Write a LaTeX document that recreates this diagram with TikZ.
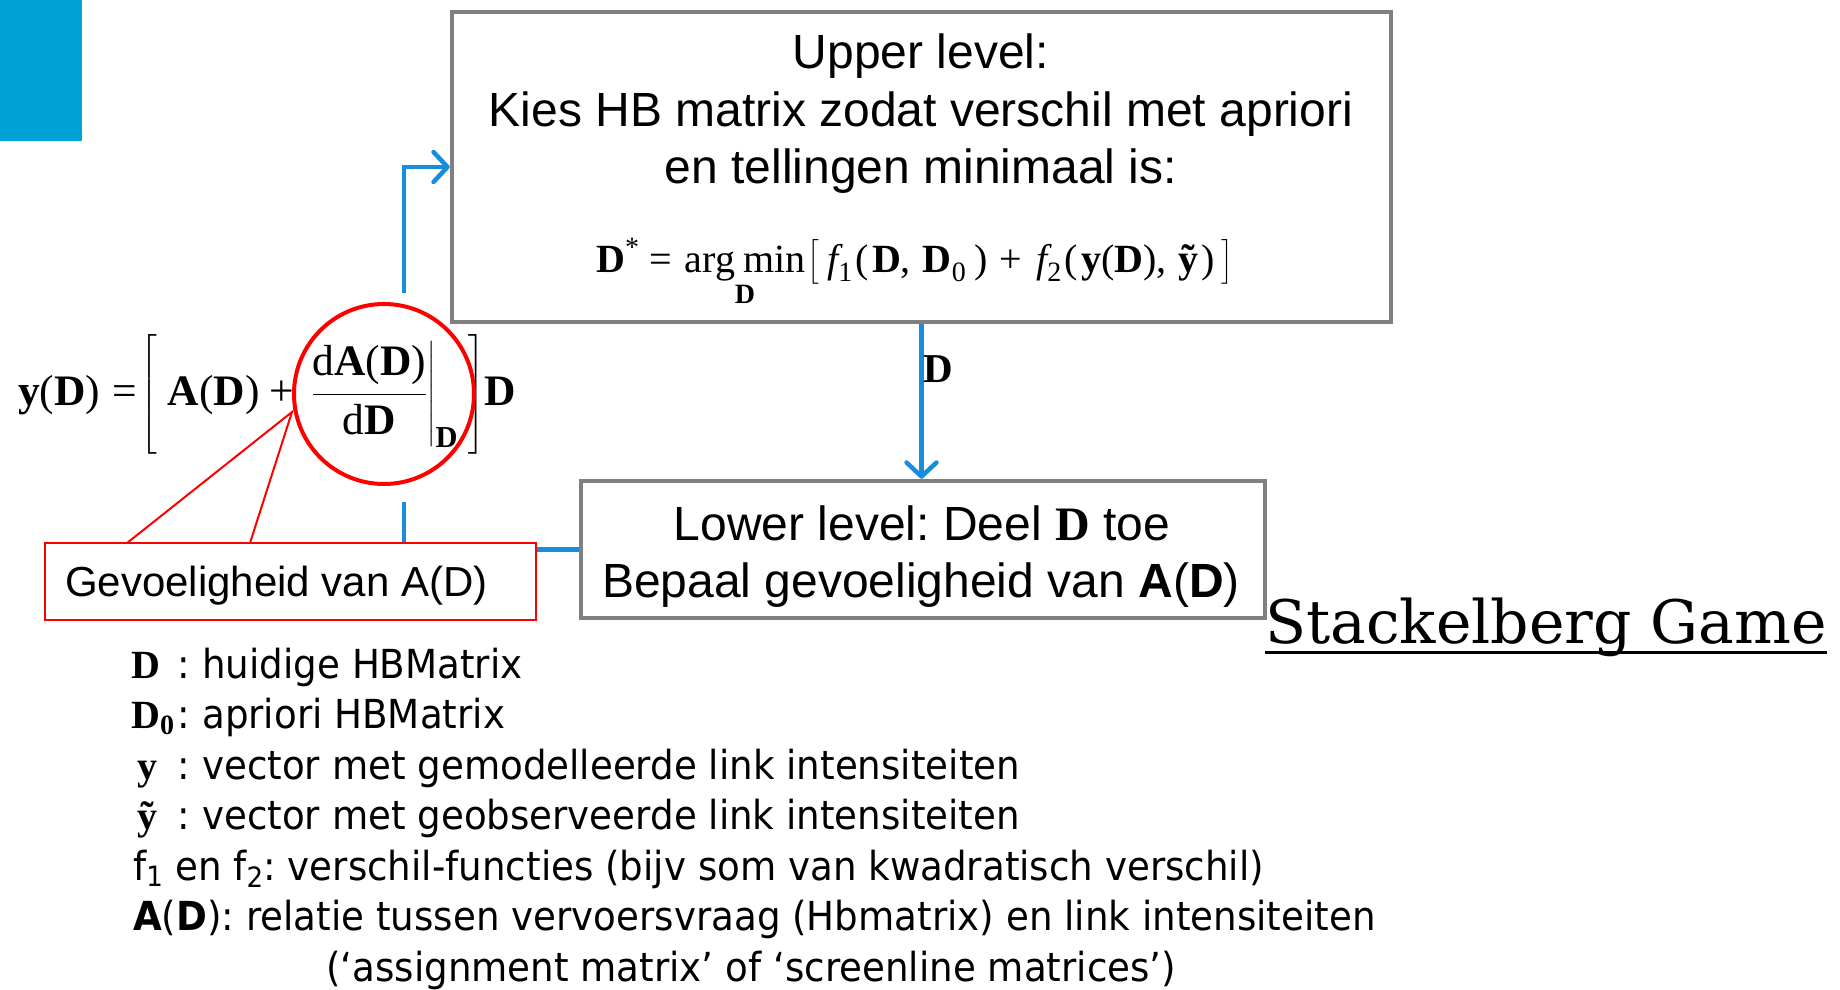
\RequirePackage{fix-cm}
\documentclass[tikz,border=0pt]{standalone}
\usepackage[no-math]{fontspec}
\usepackage{amsmath}
\setmainfont{Liberation Sans}
\newfontfamily\tnr{Liberation Serif}
\newfontfamily\tah[FakeStretch=0.93]{DejaVu Sans}
\newfontfamily\djs{DejaVu Serif}
\usetikzlibrary{arrows.meta}
\frenchspacing

\definecolor{hdrblue}{RGB}{0,163,214}
\definecolor{arrblue}{RGB}{26,140,220}
\definecolor{boxgray}{RGB}{128,128,128}

\newcommand{\legsym}[1]{\makebox[46pt][l]{#1}\makebox[25pt][l]{:}}

\tikzset{
  levelbox/.style={draw=boxgray, line width=4.5pt, fill=white, inner sep=0pt},
  flow/.style={draw=arrblue, line width=4.5pt},
  flowarrow/.style={flow, -{Straight Barb[length=14pt,width=30pt,round]}},
  boxtext/.style={font=\frenchspacing\fontsize{48}{57}\selectfont, inner sep=0pt, anchor=base},
  legend/.style={font=\frenchspacing\tah\fontsize{40}{50}\selectfont, anchor=base west, inner sep=0pt},
  calloutline/.style={draw=red, line width=2pt},
}

\begin{document}
\begin{tikzpicture}[x=1pt, y=-1pt]
\useasboundingbox (0,0) rectangle (1840,990);

% corner tab
\node[fill=hdrblue, minimum width=82pt, minimum height=141pt, inner sep=0pt, anchor=north west] (tab) at (0,0) {};

% boxes
\node[levelbox, minimum width=939pt, minimum height=310pt] (upper) at (921.5,167) {};
\node[levelbox, minimum width=684pt, minimum height=137pt] (lower) at (923,549.5) {};

\node[boxtext] (u1) at (921,69) {Upper level:};
\node[boxtext] (u2) at (921,126) {Kies HB matrix zodat verschil met apriori};
\node[boxtext] (u3) at (921,183) {en tellingen minimaal is:};
\node[anchor=base west, inner sep=0pt, font=\tnr\fontsize{40}{44}\selectfont] (uf) at (596,272)
  {$\text{\bfseries D}^{\text{*}}\hspace{10pt}\text{=}\hspace{6pt}\mathop{\text{arg\hspace{8pt}min}}\limits_{\text{\bfseries D}}\hspace{2pt}\bigl[\hspace{8pt}\text{\itshape f}_{\text{1}}\hspace{3pt}\text{(\hspace{3pt}\textbf{D},\hspace{12pt}\textbf{D}}_{\text{0}}\hspace{8pt}\text{)}\hspace{12pt}\text{+}\hspace{14pt}\text{\itshape f}_{\text{2}}\hspace{3pt}\text{(\hspace{3pt}\textbf{y}(\textbf{D}),\hspace{12pt}\textbf{ỹ}\hspace{3pt})}\hspace{6pt}\bigr]$};

\node[boxtext] (lw1) at (922,540) {Lower level: Deel {\tnr\bfseries D} toe};
\node[boxtext] (lw2) at (921,597) {Bepaal gevoeligheid van \textbf{A}(\textbf{D})};

% down arrow D
\draw[flowarrow] (upper.south) -- (upper.south |- lower.north)
  node[pos=0.29, anchor=west, inner sep=0pt, font=\tnr\bfseries\fontsize{41}{41}\selectfont] (dlab) {D};

% feedback connector
\coordinate (gapbot) at (404,502);
\coordinate (gaptop) at (404,293);
\draw[flow] (lower.west) -| (gapbot);
\draw[flowarrow] (gaptop) |- (upper.west);

% equation
\node[anchor=base west, inner sep=0pt, font=\tnr\fontsize{43.5}{48}\selectfont] (eq) at (18,405)
  {$\text{\textbf{y}(\textbf{D})}\hspace{12pt}\text{=}\hspace{-4pt}\left[\vrule height 64pt depth 48pt width 0pt\hspace{11pt}\text{\textbf{A}(\textbf{D})}\hspace{10pt}\text{+}\hspace{9pt}\left.\dfrac{\text{d\textbf{A}(\textbf{D})}}{\text{d\textbf{D}}}\hspace{0pt}\right|_{\text{\bfseries D}}\hspace{10pt}\right]\hspace{-8pt}\text{\bfseries D}$};

% circle and callout
\node[circle, draw=red, line width=4pt, minimum size=180pt, inner sep=0pt] (circ) at (384,394) {};
\node[draw=red, line width=2pt, fill=white, minimum width=491pt, minimum height=77pt, inner sep=0pt] (callout) at (290.5,581.5) {};
\node[font=\fontsize{42}{50}\selectfont, anchor=base west, inner sep=0pt] (calltext) at (65,596) {Gevoeligheid van A(D)};
\coordinate (tip) at (292,412);
\coordinate (cpa) at (127,543);
\coordinate (cpb) at (250,543);
\draw[calloutline] (cpa) -- (tip) -- (cpb);

% legend
\node[legend] (lg1) at (131,678) {\legsym{\tnr\bfseries D}huidige HBMatrix};
\node[legend] (lg2) at (131,728.5) {\legsym{\tnr\bfseries D\textsubscript{0}}apriori HBMatrix};
\node[legend] (lg3) at (131,779) {\legsym{\hspace{6pt}\tnr\bfseries y}vector met gemodelleerde link intensiteiten};
\node[legend] (lg4) at (131,829.5) {\legsym{\hspace{6pt}\tnr\bfseries ỹ}vector met geobserveerde link intensiteiten};
\node[legend] (lg5) at (133,880) {f\textsubscript{1} en f\textsubscript{2}: verschil-functies (bijv som van kwadratisch verschil)};
\node[legend] (lg6) at (133,930.5) {\textbf{A}(\textbf{D}): relatie tussen vervoersvraag (Hbmatrix) en link intensiteiten};
\node[legend] (lg7) at (326,981) {(‘assignment matrix’ of ‘screenline matrices’)};

% title
\node[font=\djs\fontsize{60}{60}\selectfont, anchor=base west, inner sep=0pt] (sg) at (1265,643) {Stackelberg Game};
\draw[line width=3pt] ([yshift=-9pt]sg.base west) -- ([yshift=-9pt]sg.base east);
\end{tikzpicture}
\end{document}
